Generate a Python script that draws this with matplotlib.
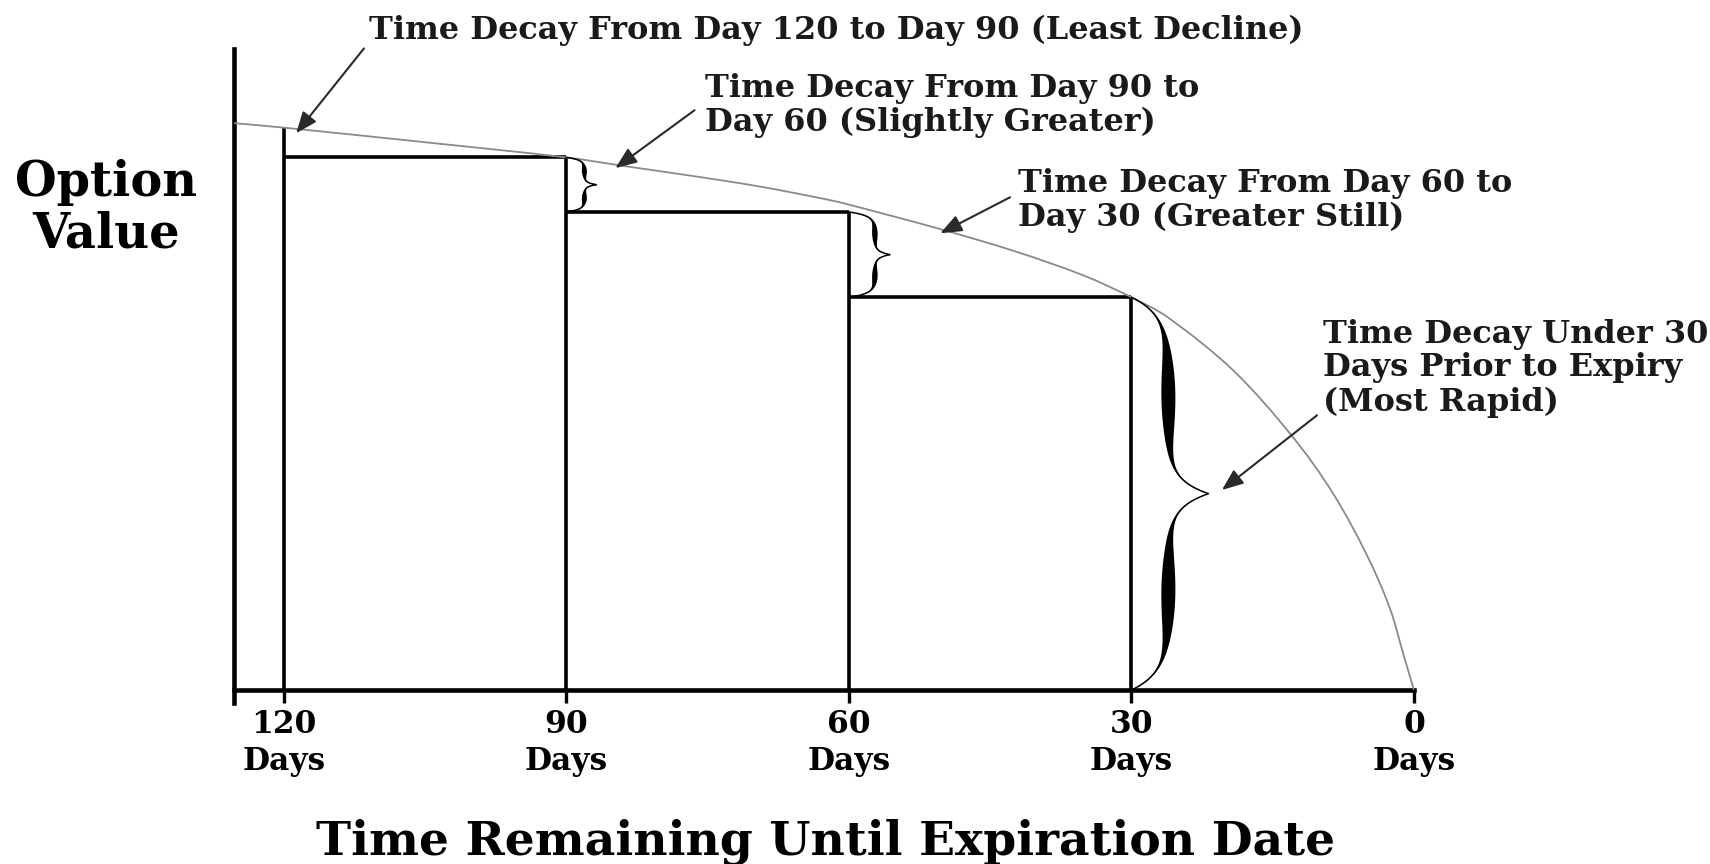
import numpy as np
import matplotlib.pyplot as plt
from matplotlib.patches import Polygon, PathPatch
from matplotlib.path import Path

# curve (days remaining -> option value)
curve_days = [125.3, 120, 105, 90, 83.6, 76.6, 69.4, 62.3, 60, 50, 42.2, 35.1,
              30, 26.2, 19.2, 12.85, 8.6, 5.0, 2.55, 1.1, 0]
curve_value = [10.09, 10.01, 9.75, 9.48, 9.32, 9.15, 8.96, 8.73, 8.64, 8.19, 7.80,
               7.38, 6.99, 6.64, 5.69, 4.50, 3.50, 2.40, 1.45, 0.62, 0]

# step boxes
box_start = [120, 90, 60]
box_end = [90, 60, 30]
box_top = [9.48, 8.51, 6.99]

tick_days = [120, 90, 60, 30, 0]
tick_labels = ['120\nDays', '90\nDays', '60\nDays', '30\nDays', '0\nDays']

notes = ['Time Decay From Day 120 to Day 90 (Least Decline)',
         'Time Decay From Day 90 to\nDay 60 (Slightly Greater)',
         'Time Decay From Day 60 to\nDay 30 (Greater Still)',
         'Time Decay Under 30\nDays Prior to Expiry\n(Most Rapid)']
note_xy = [(110.97, 11.75), (75.3, 10.41), (42.05, 8.72), (9.66, 5.73)]
arrow_from = [(111.5, 11.42), (76.4, 10.32), (42.9, 8.77), (10.3, 4.89)]
arrow_to = [(118.7, 9.91), (84.8, 9.29), (50.3, 8.13), (20.4, 3.56)]

plt.rcParams['font.family'] = 'DejaVu Serif'
plt.rcParams['font.weight'] = 'bold'

fig = plt.figure(figsize=(17.1, 8.64), dpi=100)
ax = fig.add_axes([234 / 1710, 1 - 703 / 864, 1180 / 1710, 654 / 864])
ax.set_xlim(125.3, 0)
ax.set_ylim(-0.231, 11.41)

# smooth curve through the read points (chord-length cubic Hermite -> Bezier)
P = ax.transData.transform(np.c_[curve_days, curve_value])
t = np.r_[0, np.cumsum(np.hypot(*np.diff(P, axis=0).T))]
m = np.zeros_like(P)
m[0] = (P[1] - P[0]) / (t[1] - t[0])
m[-1] = (P[-1] - P[-2]) / (t[-1] - t[-2])
m[1:-1] = (P[2:] - P[:-2]) / (t[2:] - t[:-2])[:, None]
verts = [P[0]]
codes = [Path.MOVETO]
for i in range(len(P) - 1):
    dt = t[i + 1] - t[i]
    verts += [P[i] + m[i] * dt / 3, P[i + 1] - m[i + 1] * dt / 3, P[i + 1]]
    codes += [Path.CURVE4] * 3
inv = ax.transData.inverted()
ax.add_patch(PathPatch(Path(inv.transform(np.array(verts)), codes), fill=False,
                       edgecolor='#8a8a8a', lw=1.3, zorder=3))

# boxes
ax.vlines(box_start[0], 0, curve_value[1], color='black', lw=2.6)
for s, e, top in zip(box_start, box_end, box_top):
    ax.hlines(top, s, e, color='black', lw=2.6)
    ax.vlines(e, 0, top, color='black', lw=2.6)


def brace(day, lo, hi, body, tip, thick):
    x0, ylo = ax.transData.transform((day, lo))
    _, yhi = ax.transData.transform((day, hi))
    h = (yhi - ylo) / 2
    u = np.linspace(0, 1, 120)
    xc = x0 + body * (1 - np.exp(-u / 0.09)) + (tip - body) * np.exp(-(1 - u) / 0.07)
    th = 0.5 + (thick - 0.5) * np.sin(np.pi * u) ** 2
    y_up = yhi - u * h
    y_dn = ylo + u * h
    right = np.r_[np.c_[xc + th / 2, y_up], np.c_[xc + th / 2, y_dn][::-1]]
    left = np.r_[np.c_[xc - th / 2, y_dn], np.c_[xc - th / 2, y_up][::-1]]
    ax.add_patch(Polygon(inv.transform(np.r_[right, left]), closed=True,
                         facecolor='black', edgecolor='none', zorder=4))
    line = inv.transform(np.r_[np.c_[xc, y_up], np.c_[xc, y_dn][::-1]])
    ax.plot(line[:, 0], line[:, 1], color='black', lw=1.1, zorder=4)


brace(90, box_top[1], box_top[0], 18, 30, 5)
brace(60, box_top[2], box_top[1], 26, 41, 5.5)
brace(30, 0, box_top[2], 37, 77, 14)

# annotations
for txt, xy, a0, a1 in zip(notes, note_xy, arrow_from, arrow_to):
    ax.text(xy[0], xy[1], txt, ha='left', va='center', fontsize=23,
            color='#1a1a1a', linespacing=1.12)
    ax.annotate('', xy=a1, xytext=a0,
                arrowprops=dict(arrowstyle='-|>,head_length=0.65,head_width=0.26',
                                color='#2a2a2a', lw=1.5, mutation_scale=20,
                                shrinkA=0, shrinkB=0))

# axes styling
for side in ['top', 'right']:
    ax.spines[side].set_visible(False)
ax.spines['left'].set_linewidth(3.3)
ax.spines['bottom'].set_linewidth(3.3)
ax.spines['bottom'].set_position(('data', 0))
ax.set_yticks([])
ax.set_xticks(tick_days)
ax.set_xticklabels(tick_labels, fontsize=22.5, linespacing=1.25)
ax.tick_params(axis='x', direction='out', length=9.4, width=2.4, pad=4)

fig.text(106 / 1710, 1 - 208 / 864, 'Option\nValue', ha='center', va='center',
         fontsize=34.5, linespacing=1.12)
fig.text(826 / 1710, 1 - 842 / 864, 'Time Remaining Until Expiration Date',
         ha='center', va='center', fontsize=34)

fig.savefig('out.png', dpi=100)
